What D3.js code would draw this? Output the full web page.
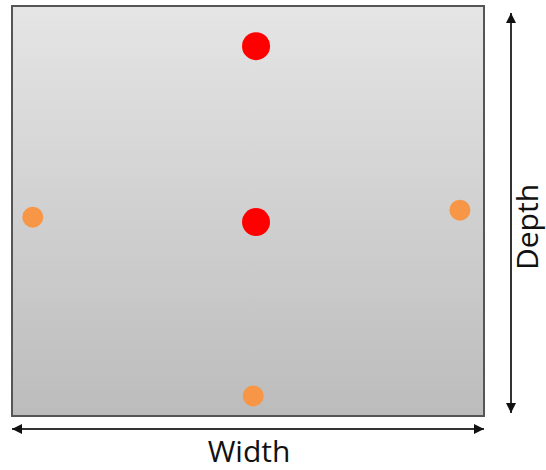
<!DOCTYPE html>
<html>
<head>
<meta charset="utf-8">
<script src="https://cdn.jsdelivr.net/npm/d3@7"></script>
<style>
  html, body { margin: 0; padding: 0; background: #fff; }
  svg { display: block; }
</style>
</head>
<body>
<div id="chart"></div>
<script>
// Sample point positions, as fractions of width (x) and depth (y)
var pointNames = ['top', 'centre', 'left', 'right', 'bottom'];
var pointX = [0.517, 0.517, 0.044, 0.949, 0.511];
var pointY = [0.098, 0.527, 0.515, 0.498, 0.951];
var pointKind = ['red', 'red', 'orange', 'orange', 'orange'];
var axisLabels = ['Width', 'Depth'];

(function() {
    'use strict';

    var W = 546, H = 470;
    var box = { left: 12, right: 484, top: 6, bottom: 416 };

    var kindColor = { red: '#ff0000', orange: '#f79646' };
    var kindRadius = { red: 14, orange: 10.5 };

    var x = d3.scaleLinear().domain([0, 1]).range([box.left, box.right]);
    var y = d3.scaleLinear().domain([0, 1]).range([box.top, box.bottom]);

    var svg = d3.select('#chart').append('svg')
        .attr('width', W)
        .attr('height', H)
        .style('font-family', '"Open Sans", sans-serif');

    var defs = svg.append('defs');
    var grad = defs.append('linearGradient')
        .attr('id', 'plate')
        .attr('x1', 0).attr('y1', 0).attr('x2', 0).attr('y2', 1);
    grad.append('stop').attr('offset', '0%').attr('stop-color', '#e5e5e5');
    grad.append('stop').attr('offset', '100%').attr('stop-color', '#bcbcbc');

    defs.append('marker')
        .attr('id', 'head')
        .attr('viewBox', '0 0 10 10')
        .attr('refX', 10).attr('refY', 5)
        .attr('markerWidth', 12).attr('markerHeight', 10)
        .attr('markerUnits', 'userSpaceOnUse')
        .attr('orient', 'auto-start-reverse')
        .append('path')
        .attr('d', 'M0,0L10,5L0,10Z')
        .attr('fill', '#111');

    // the plate
    svg.append('rect')
        .attr('x', x(0))
        .attr('y', y(0))
        .attr('width', x(1) - x(0))
        .attr('height', y(1) - y(0))
        .attr('fill', 'url(#plate)')
        .attr('stroke', '#555')
        .attr('stroke-width', 2);

    // points
    svg.selectAll('circle.pt')
        .data(pointNames)
        .join('circle')
        .attr('class', 'pt')
        .attr('cx', function(d, i) { return x(pointX[i]); })
        .attr('cy', function(d, i) { return y(pointY[i]); })
        .attr('r', function(d, i) { return kindRadius[pointKind[i]]; })
        .attr('fill', function(d, i) { return kindColor[pointKind[i]]; });

    // width arrow
    var arrowY = 429;
    svg.append('line')
        .attr('x1', x(0)).attr('x2', x(1))
        .attr('y1', arrowY).attr('y2', arrowY)
        .attr('stroke', '#333').attr('stroke-width', 2)
        .attr('marker-start', 'url(#head)')
        .attr('marker-end', 'url(#head)');

    svg.append('text')
        .attr('x', 249)
        .attr('y', 462)
        .attr('text-anchor', 'middle')
        .attr('font-size', 30)
        .attr('fill', '#111')
        .text(axisLabels[0]);

    // depth arrow
    var arrowX = 511;
    svg.append('line')
        .attr('x1', arrowX).attr('x2', arrowX)
        .attr('y1', 13).attr('y2', 413)
        .attr('stroke', '#333').attr('stroke-width', 2)
        .attr('marker-start', 'url(#head)')
        .attr('marker-end', 'url(#head)');

    svg.append('text')
        .attr('transform', 'translate(538,227) rotate(-90)')
        .attr('text-anchor', 'middle')
        .attr('font-size', 30)
        .attr('fill', '#111')
        .text(axisLabels[1]);
})();
</script>
</body>
</html>
